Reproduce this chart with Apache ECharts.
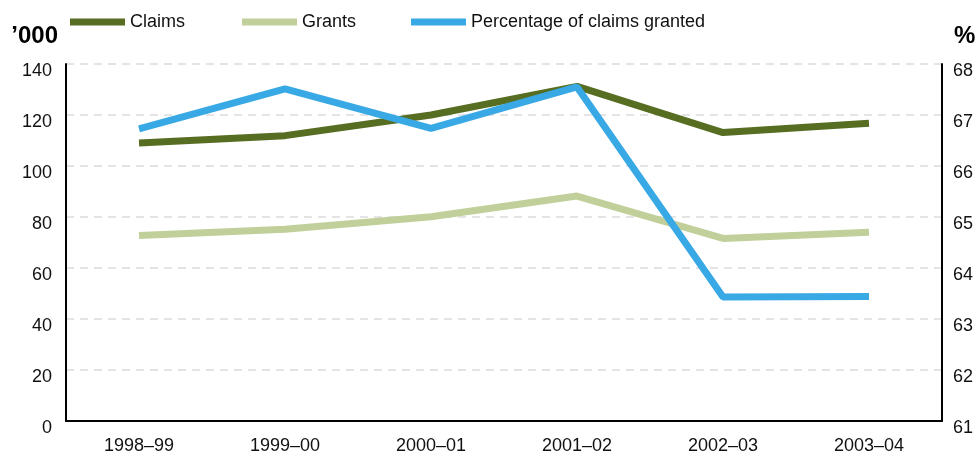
<!DOCTYPE html>
<html>
<head>
<meta charset="utf-8">
<script src="https://cdn.jsdelivr.net/npm/echarts@6/dist/echarts.min.js"></script>
<style>
  html, body { margin: 0; padding: 0; background: #fff; }
  #chart { width: 979px; height: 457px; }
</style>
</head>
<body>
<div id="chart"></div>
<script>
const years = ['1998–99', '1999–00', '2000–01', '2001–02', '2002–03', '2003–04']
const claims = [109.0, 111.9, 120.0, 131.2, 113.1, 116.8]
const grants = [72.7, 75.2, 80.1, 88.2, 71.6, 74.0]
const pctGranted = [66.73, 67.51, 66.74, 67.55, 63.43, 63.44]

const FONT = '"Liberation Sans Narrow", "Liberation Sans", Arial, sans-serif'
const COLORS = { claims: '#566d22', grants: '#c1d09b', pct: '#39a9e6' }

const chart = echarts.init(document.getElementById('chart'))

const legendItem = (name, left) => ({
  left, top: 8,
  icon: 'rect',
  itemWidth: 55, itemHeight: 7, itemTextGap: 13,
  data: [name],
  textStyle: { fontFamily: FONT, fontSize: 18, color: '#111' },
  selectedMode: false,
})

chart.setOption({
  animation: false,
  textStyle: { fontFamily: FONT },
  legend: [
    legendItem('Claims', 65),
    legendItem('Grants', 237),
    legendItem('Percentage of claims granted', 406),
  ],
  grid: { left: 66, right: 37, top: 64, bottom: 36 },
  xAxis: {
    type: 'category',
    data: years,
    boundaryGap: true,
    axisLine: { lineStyle: { color: '#000', width: 2 } },
    axisTick: { alignWithLabel: true, inside: true, length: 8, lineStyle: { color: '#000', width: 2 } },
    axisLabel: { color: '#111', fontSize: 18, fontFamily: FONT, margin: 16 },
  },
  yAxis: [
    {
      type: 'value', min: 0, max: 140, interval: 20,
      name: '’000', nameLocation: 'end', nameGap: 16,
      nameTextStyle: { fontFamily: FONT, fontSize: 24, fontWeight: 'bold', color: '#000', align: 'right', padding: [0, 8, 0, 0] },
      axisLine: { show: true, lineStyle: { color: '#000', width: 2 } },
      axisTick: { show: false },
      axisLabel: { color: '#111', fontSize: 18, fontFamily: FONT, margin: 14, verticalAlign: 'top', lineHeight: 14 },
      splitLine: { show: true, lineStyle: { color: '#dcdcdc', type: [8, 6], width: 1.5 } },
    },
    {
      type: 'value', min: 61, max: 68, interval: 1,
      name: '%', nameLocation: 'end', nameGap: 16,
      nameTextStyle: { fontFamily: FONT, fontSize: 24, fontWeight: 'bold', color: '#000', align: 'left', padding: [0, 0, 0, 12] },
      position: 'right',
      axisLine: { show: true, lineStyle: { color: '#000', width: 2 } },
      axisTick: { show: false },
      axisLabel: { color: '#111', fontSize: 18, fontFamily: FONT, margin: 11, verticalAlign: 'top', lineHeight: 14 },
      splitLine: { show: false },
    },
  ],
  series: [
    {
      name: 'Claims', type: 'line', data: claims, yAxisIndex: 0,
      showSymbol: false, symbol: 'none',
      itemStyle: { color: COLORS.claims },
      lineStyle: { color: COLORS.claims, width: 7 },
    },
    {
      name: 'Grants', type: 'line', data: grants, yAxisIndex: 0,
      showSymbol: false, symbol: 'none',
      itemStyle: { color: COLORS.grants },
      lineStyle: { color: COLORS.grants, width: 7 },
    },
    {
      name: 'Percentage of claims granted', type: 'line', data: pctGranted, yAxisIndex: 1,
      showSymbol: false, symbol: 'none',
      itemStyle: { color: COLORS.pct },
      lineStyle: { color: COLORS.pct, width: 7 },
    },
  ],
})
</script>
</body>
</html>
